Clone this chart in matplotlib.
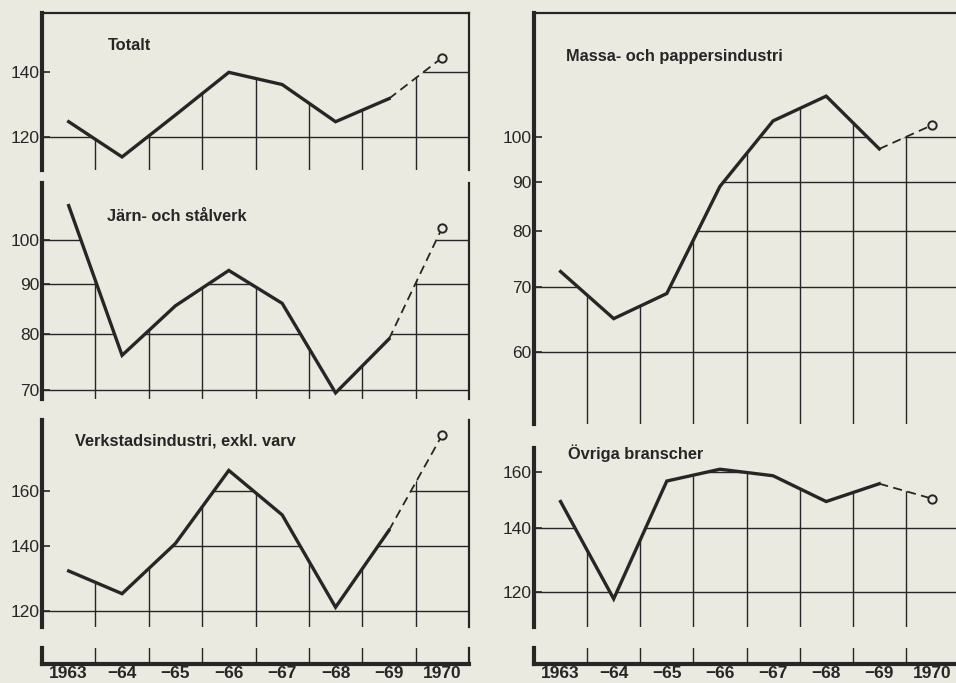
import numpy as np
import matplotlib
import matplotlib.pyplot as plt
from matplotlib import font_manager
from matplotlib.patches import Polygon
from matplotlib.ticker import FixedLocator, NullLocator, FixedFormatter

# -------- DATA (index values) --------
years = [1963, 1964, 1965, 1966, 1967, 1968, 1969, 1970]
year_labels = ["1963", "\u221264", "\u221265", "\u221266", "\u221267", "\u221268", "\u221269", "1970"]

totalt = [124.5, 114.5, 126.5, 140.0, 136.0, 124.5, 131.5, 145.0]
jarn = [108.5, 76.0, 85.5, 93.0, 86.0, 69.5, 79.0, 103.0]
verkstad = [132.0, 125.0, 141.0, 168.0, 151.0, 121.0, 145.5, 183.0]
massa = [72.7, 65.0, 69.0, 89.0, 104.0, 110.3, 97.3, 103.0]
ovriga = [149.0, 118.0, 156.5, 161.0, 158.5, 149.0, 155.5, 150.0]

titles = ["Totalt", "J\u00e4rn- och st\u00e5lverk", "Verkstadsindustri, exkl. varv",
          "Massa- och pappersindustri", "\u00d6vriga branscher"]

# -------- FONTS / COLOURS --------
names = {f.name for f in font_manager.fontManager.ttflist}
narrow = "Liberation Sans Narrow" if "Liberation Sans Narrow" in names else "Liberation Sans"
plt.rcParams['font.family'] = [narrow, 'DejaVu Sans']

BG = '#ebeae0'
INK = '#262626'

W, H = 956, 683
fig = plt.figure(figsize=(W / 100, H / 100), dpi=100, facecolor=BG)


def box(x0, y0, x1, y1):
    # pixel box (top-left origin) -> figure fraction
    return [x0 / W, 1 - y1 / H, (x1 - x0) / W, (y1 - y0) / H]


def panel(rect, vals, ticks, ylim, top_border=False, right_spine=True):
    ax = fig.add_axes(rect)
    ax.set_facecolor(BG)
    ax.set_yscale('log')
    ax.set_xlim(1962.5, 1970.5)
    ax.set_ylim(*ylim)

    # clip region: area under the curve, extended flat to both sides
    xs = [1962.5] + years + [1970.5, 1970.5, 1962.5]
    ys = [vals[0]] + vals + [vals[-1], ylim[0] * 0.9, ylim[0] * 0.9]
    clip = Polygon(np.column_stack([xs, ys]), closed=True, transform=ax.transData)

    for t in ticks:
        ln = ax.axhline(t, color=INK, lw=1.0, zorder=1)
        ln.set_clip_path(clip)
    for xv in np.arange(1963.5, 1970.5, 1.0):
        ln = ax.axvline(xv, color=INK, lw=1.0, zorder=1)
        ln.set_clip_path(clip)

    ax.plot(years[:-1], vals[:-1], color=INK, lw=2.4, solid_joinstyle='miter', zorder=3)
    ax.plot(years[-2:], vals[-2:], color=INK, lw=1.3, ls=(0, (5, 3)), zorder=3)
    ax.plot(years[-1], vals[-1], 'o', ms=6, mfc=BG, mec=INK, mew=1.4, zorder=4)

    ax.yaxis.set_major_locator(FixedLocator(ticks))
    ax.yaxis.set_major_formatter(FixedFormatter([str(t) for t in ticks]))
    ax.yaxis.set_minor_locator(NullLocator())
    ax.set_xticks([])
    ax.tick_params(axis='y', direction='in', length=6, width=1.2, color=INK,
                   labelsize=12.5, pad=2, labelcolor=INK)

    ax.spines['left'].set_linewidth(3.0)
    ax.spines['left'].set_color(INK)
    ax.spines['right'].set_visible(right_spine)
    ax.spines['right'].set_linewidth(1.6)
    ax.spines['right'].set_color(INK)
    ax.spines['top'].set_visible(top_border)
    ax.spines['top'].set_linewidth(1.6)
    ax.spines['top'].set_color(INK)
    ax.spines['bottom'].set_visible(False)
    return ax


def strip(rect, right_spine=True):
    ax = fig.add_axes(rect)
    ax.set_facecolor(BG)
    ax.set_xlim(1962.5, 1970.5)
    ax.set_ylim(0, 1)
    for xv in np.arange(1963.5, 1970.5, 1.0):
        ax.axvline(xv, color=INK, lw=1.0)
    ax.set_yticks([])
    ax.set_xticks(years)
    ax.set_xticklabels(year_labels, fontweight='bold', fontsize=12.5, color=INK)
    ax.tick_params(axis='x', length=0, pad=1.5)
    ax.spines['left'].set_linewidth(3.0)
    ax.spines['bottom'].set_linewidth(3.0)
    ax.spines['right'].set_linewidth(1.6)
    ax.spines['right'].set_visible(right_spine)
    ax.spines['top'].set_visible(False)
    for s in ax.spines.values():
        s.set_color(INK)
    return ax


# -------- LEFT COLUMN --------
panel(box(42, 13, 469, 170), totalt, [140, 120], (111.0, 161.2), top_border=True)
panel(box(42, 183, 469, 399), jarn, [100, 90, 80, 70], (68.5, 114.5))
panel(box(42, 420, 469, 627), verkstad, [160, 140, 120], (115.4, 189.6))
strip(box(42, 648, 469, 664))

# -------- RIGHT COLUMN --------
panel(box(534, 13, 959, 424), massa, [100, 90, 80, 70, 60], (50.6, 134.4),
      top_border=True, right_spine=False)
panel(box(534, 448, 959, 627), ovriga, [160, 140, 120], (110.3, 169.4), right_spine=False)
strip(box(534, 648, 959, 664), right_spine=False)

# -------- PANEL TITLES --------
title_pos = [(108, 45), (107, 217), (75, 441), (566, 56), (568, 453)]
for txt, (px, py) in zip(titles, title_pos):
    fig.text(px / W, 1 - py / H, txt, family=['Liberation Sans', 'DejaVu Sans'],
             fontweight='bold', fontsize=11.8, color=INK, ha='left', va='center')

fig.savefig('out.png', dpi=100, facecolor=BG)
